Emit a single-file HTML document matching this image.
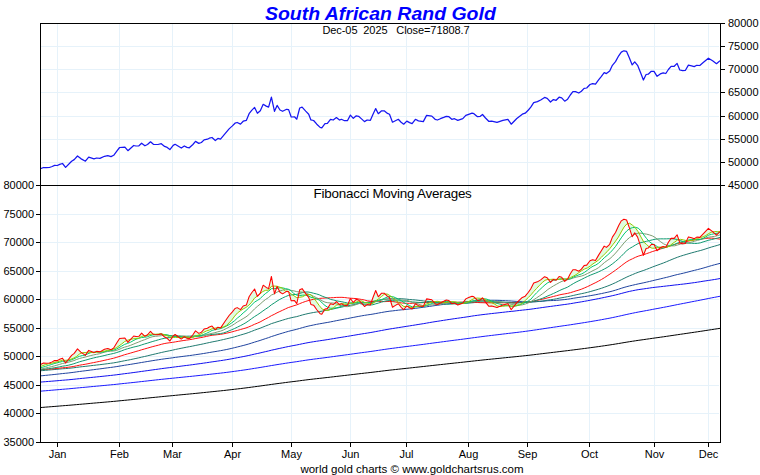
<!DOCTYPE html><html><head><meta charset="utf-8"><style>html,body{margin:0;padding:0;background:#fff;width:760px;height:475px;overflow:hidden}svg{display:block}</style></head><body><svg width="760" height="475" viewBox="0 0 760 475">
<rect width="760" height="475" fill="#fff"/>
<path d="M57.5,24 V441 M119.5,24 V441 M172.5,24 V441 M232.5,24 V441 M291.5,24 V441 M350.5,24 V441 M406.5,24 V441 M468.5,24 V441 M527.5,24 V441 M589.5,24 V441 M654.5,24 V441 M708.5,24 V441 M41,46.5 H719 M41,69.5 H719 M41,92.5 H719 M41,116.5 H719 M41,139.5 H719 M41,162.5 H719 M41,214.5 H719 M41,242.5 H719 M41,271.5 H719 M41,299.5 H719 M41,328.5 H719 M41,356.5 H719 M41,385.5 H719 M41,413.5 H719" stroke="#e6f2fa" stroke-width="1" fill="none"/>
<defs><clipPath id="ct"><rect x="40" y="23" width="680" height="162"/></clipPath><clipPath id="cb"><rect x="40" y="185" width="680" height="257"/></clipPath></defs>
<path d="M40.00,168.90 L43.50,167.50 L46.30,167.70 L49.40,167.50 L52.20,166.50 L54.60,165.40 L57.30,165.50 L59.70,164.40 L62.50,163.50 L65.60,167.40 L71.60,161.20 L74.20,159.60 L77.50,156.00 L80.80,158.60 L85.40,161.20 L88.70,157.20 L94.00,158.90 L96.60,158.00 L99.90,158.40 L104.50,156.30 L107.80,155.70 L111.00,156.60 L113.70,155.30 L117.00,150.80 L119.60,147.50 L124.90,147.10 L127.90,150.70 L133.70,145.50 L136.00,146.00 L138.90,145.80 L141.60,143.20 L144.90,145.80 L147.50,144.50 L150.50,141.80 L153.40,144.30 L158.00,144.50 L161.30,143.70 L164.60,146.40 L167.20,147.40 L169.90,149.60 L173.20,145.40 L175.10,144.30 L178.40,146.30 L181.30,148.00 L184.30,146.00 L187.00,147.40 L189.30,147.80 L192.90,144.50 L195.50,141.40 L198.80,143.40 L201.40,142.50 L204.10,139.90 L207.40,139.20 L209.30,138.20 L212.00,137.50 L215.30,140.50 L217.90,138.40 L220.50,139.10 L225.10,133.60 L229.10,128.90 L232.40,125.90 L235.00,123.20 L237.20,122.50 L240.50,124.10 L243.20,121.20 L246.40,120.30 L249.10,113.70 L251.70,110.40 L254.60,107.40 L257.40,113.30 L260.30,110.70 L263.20,104.30 L266.20,106.10 L268.60,107.10 L271.40,97.20 L274.50,111.30 L277.10,105.40 L280.00,110.00 L282.60,111.30 L286.60,109.30 L288.60,109.60 L291.20,117.00 L294.50,116.80 L296.80,119.20 L299.70,108.00 L302.10,107.10 L305.70,111.10 L308.70,114.20 L310.90,119.90 L313.60,120.50 L316.80,124.20 L320.10,127.40 L321.80,127.80 L325.00,123.60 L327.40,123.30 L330.50,119.30 L333.20,120.00 L336.40,117.60 L339.50,120.00 L341.40,119.30 L344.50,120.70 L347.40,120.70 L350.40,115.10 L353.30,118.30 L356.30,115.80 L358.60,116.30 L361.80,119.10 L364.50,121.60 L367.10,120.00 L370.40,120.30 L372.80,114.70 L375.70,108.60 L378.30,113.70 L381.60,110.80 L384.20,110.80 L387.50,113.40 L389.50,114.30 L392.50,122.20 L395.40,120.70 L398.30,119.30 L401.10,122.20 L403.70,124.20 L406.80,121.10 L409.60,122.60 L412.10,123.60 L415.40,119.30 L418.40,120.90 L421.70,121.30 L423.30,121.60 L426.60,115.40 L431.80,116.10 L435.10,119.30 L437.40,120.00 L440.40,118.70 L443.70,117.40 L446.30,116.30 L448.90,116.70 L451.80,119.30 L454.50,118.70 L457.80,120.40 L462.80,118.70 L465.80,115.40 L468.70,114.30 L472.00,113.20 L473.90,113.70 L477.50,116.70 L480.30,116.30 L482.50,114.50 L485.50,118.00 L488.70,121.30 L491.70,121.10 L497.00,122.40 L502.90,120.40 L507.90,119.30 L511.20,124.20 L516.80,118.50 L522.30,114.20 L525.20,113.20 L528.40,110.00 L530.80,107.20 L533.70,102.60 L537.40,101.60 L540.70,100.00 L544.60,97.40 L547.20,98.30 L550.50,102.00 L553.40,99.60 L556.10,100.30 L559.10,97.20 L561.70,97.90 L564.70,101.20 L567.60,99.20 L570.30,95.00 L572.90,91.70 L575.50,91.70 L578.80,93.00 L581.40,91.30 L584.10,88.40 L586.70,88.00 L590.00,84.50 L592.60,83.60 L595.50,84.20 L598.60,79.90 L601.20,76.60 L604.20,72.60 L606.40,73.60 L609.70,71.10 L612.40,65.30 L615.50,61.60 L618.70,55.80 L621.30,52.10 L623.90,50.80 L626.60,51.40 L629.20,57.40 L632.20,64.90 L634.70,61.80 L637.60,65.30 L640.80,73.20 L643.40,80.00 L646.10,74.50 L648.20,74.20 L651.30,71.30 L654.00,71.30 L657.10,76.30 L660.30,73.90 L663.20,72.90 L665.80,73.50 L668.40,69.50 L671.10,66.30 L674.20,66.30 L677.10,63.40 L679.80,70.00 L682.60,70.70 L685.30,70.50 L688.40,65.10 L691.60,65.80 L694.20,66.60 L696.80,65.30 L699.80,65.50 L703.20,62.60 L708.40,58.20 L712.60,60.80 L716.50,63.70 L720.00,60.80" stroke="#1616f2" stroke-width="1.25" fill="none" stroke-linejoin="round" clip-path="url(#ct)"/>
<g clip-path="url(#cb)">
<path d="M40.00,364.82 L43.50,363.09 L46.30,363.34 L49.40,363.09 L52.20,361.86 L54.60,360.50 L57.30,360.62 L59.70,359.27 L62.50,358.16 L65.60,362.97 L71.60,355.33 L74.20,353.35 L77.50,348.92 L80.80,352.12 L85.40,355.33 L88.70,350.40 L94.00,352.49 L96.60,351.38 L99.90,351.87 L104.50,349.29 L107.80,348.55 L111.00,349.66 L113.70,348.05 L117.00,342.51 L119.60,338.44 L124.90,337.95 L127.90,342.38 L133.70,335.98 L136.00,336.59 L138.90,336.35 L141.60,333.14 L144.90,336.35 L147.50,334.74 L150.50,331.42 L153.40,334.50 L158.00,334.74 L161.30,333.76 L164.60,337.09 L167.20,338.32 L169.90,341.03 L173.20,335.85 L175.10,334.50 L178.40,336.96 L181.30,339.06 L184.30,336.59 L187.00,338.32 L189.30,338.81 L192.90,334.74 L195.50,330.92 L198.80,333.39 L201.40,332.28 L204.10,329.07 L207.40,328.21 L209.30,326.98 L212.00,326.12 L215.30,329.81 L217.90,327.23 L220.50,328.09 L225.10,321.31 L229.10,315.52 L232.40,311.82 L235.00,308.49 L237.20,307.63 L240.50,309.60 L243.20,306.03 L246.40,304.92 L249.10,296.78 L251.70,292.72 L254.60,289.02 L257.40,296.29 L260.30,293.09 L263.20,285.20 L266.20,287.42 L268.60,288.65 L271.40,276.45 L274.50,293.83 L277.10,286.55 L280.00,292.22 L282.60,293.83 L286.60,291.36 L288.60,291.73 L291.20,300.85 L294.50,300.60 L296.80,303.56 L299.70,289.76 L302.10,288.65 L305.70,293.58 L308.70,297.40 L310.90,304.42 L313.60,305.16 L316.80,309.72 L320.10,313.67 L321.80,314.16 L325.00,308.99 L327.40,308.62 L330.50,303.69 L333.20,304.55 L336.40,301.59 L339.50,304.55 L341.40,303.69 L344.50,305.41 L347.40,305.41 L350.40,298.51 L353.30,302.45 L356.30,299.37 L358.60,299.99 L361.80,303.44 L364.50,306.52 L367.10,304.55 L370.40,304.92 L372.80,298.02 L375.70,290.50 L378.30,296.78 L381.60,293.21 L384.20,293.21 L387.50,296.41 L389.50,297.52 L392.50,307.26 L395.40,305.41 L398.30,303.69 L401.10,307.26 L403.70,309.72 L406.80,305.90 L409.60,307.75 L412.10,308.99 L415.40,303.69 L418.40,305.66 L421.70,306.15 L423.30,306.52 L426.60,298.88 L431.80,299.74 L435.10,303.69 L437.40,304.55 L440.40,302.95 L443.70,301.34 L446.30,299.99 L448.90,300.48 L451.80,303.69 L454.50,302.95 L457.80,305.04 L462.80,302.95 L465.80,298.88 L468.70,297.52 L472.00,296.17 L473.90,296.78 L477.50,300.48 L480.30,299.99 L482.50,297.77 L485.50,302.08 L488.70,306.15 L491.70,305.90 L497.00,307.51 L502.90,305.04 L507.90,303.69 L511.20,309.72 L516.80,302.70 L522.30,297.40 L525.20,296.17 L528.40,292.22 L530.80,288.77 L533.70,283.10 L537.40,281.87 L540.70,279.90 L544.60,276.69 L547.20,277.80 L550.50,282.36 L553.40,279.41 L556.10,280.27 L559.10,276.45 L561.70,277.31 L564.70,281.38 L567.60,278.91 L570.30,273.74 L572.90,269.67 L575.50,269.67 L578.80,271.27 L581.40,269.18 L584.10,265.60 L586.70,265.11 L590.00,260.80 L592.60,259.69 L595.50,260.43 L598.60,255.13 L601.20,251.06 L604.20,246.13 L606.40,247.36 L609.70,244.28 L612.40,237.13 L615.50,232.57 L618.70,225.42 L621.30,220.86 L623.90,219.26 L626.60,220.00 L629.20,227.40 L632.20,236.64 L634.70,232.82 L637.60,237.13 L640.80,246.87 L643.40,255.25 L646.10,248.47 L648.20,248.10 L651.30,244.53 L654.00,244.53 L657.10,250.69 L660.30,247.73 L663.20,246.50 L665.80,247.24 L668.40,242.31 L671.10,238.37 L674.20,238.37 L677.10,234.79 L679.80,242.93 L682.60,243.79 L685.30,243.54 L688.40,236.89 L691.60,237.75 L694.20,238.74 L696.80,237.13 L699.80,237.38 L703.20,233.81 L708.40,228.38 L712.60,231.59 L716.50,235.16 L720.00,231.59 L720.00,231.73 L717.18,231.61 L714.36,231.51 L711.54,232.25 L708.71,233.53 L705.89,235.50 L703.07,236.87 L700.25,237.49 L697.43,238.45 L694.61,239.76 L691.78,240.69 L688.96,240.43 L686.14,240.54 L683.32,239.86 L680.50,239.34 L677.68,239.94 L674.85,241.95 L672.03,243.95 L669.21,246.26 L666.39,247.38 L663.57,247.06 L660.75,247.07 L657.93,247.24 L655.10,248.10 L652.28,248.25 L649.46,247.12 L646.64,244.55 L643.82,242.10 L641.00,237.05 L638.17,231.72 L635.35,227.80 L632.53,225.24 L629.71,223.22 L626.89,223.90 L624.07,227.05 L621.24,231.90 L618.42,237.05 L615.60,241.08 L612.78,244.72 L609.96,248.41 L607.14,251.66 L604.32,254.28 L601.49,257.18 L598.67,259.91 L595.85,262.01 L593.03,263.79 L590.21,266.07 L587.39,267.92 L584.56,269.01 L581.74,270.60 L578.92,272.63 L576.10,274.65 L573.28,276.20 L570.46,277.56 L567.63,278.85 L564.81,278.97 L561.99,279.15 L559.17,279.35 L556.35,279.44 L553.53,279.18 L550.71,279.42 L547.88,279.42 L545.06,280.28 L542.24,282.60 L539.42,285.38 L536.60,288.45 L533.78,291.49 L530.95,294.86 L528.13,297.70 L525.31,300.42 L522.49,303.16 L519.67,304.61 L516.85,305.49 L514.02,305.98 L511.20,306.00 L508.38,305.55 L505.56,305.97 L502.74,306.29 L499.92,306.48 L497.10,305.72 L494.27,303.92 L491.45,302.59 L488.63,301.47 L485.81,299.74 L482.99,298.50 L480.17,298.30 L477.34,298.05 L474.52,298.46 L471.70,299.76 L468.88,301.48 L466.06,302.62 L463.24,303.59 L460.41,303.27 L457.59,302.48 L454.77,301.79 L451.95,301.73 L449.13,301.86 L446.31,302.43 L443.49,302.48 L440.66,302.06 L437.84,301.29 L435.02,301.53 L432.20,302.02 L429.38,303.06 L426.56,303.98 L423.73,305.86 L420.91,306.31 L418.09,306.29 L415.27,307.07 L412.45,307.76 L409.63,306.82 L406.80,306.34 L403.98,306.58 L401.16,304.45 L398.34,302.19 L395.52,300.09 L392.70,297.70 L389.88,295.57 L387.05,293.95 L384.23,294.29 L381.41,296.61 L378.59,298.85 L375.77,300.85 L372.95,303.38 L370.12,303.90 L367.30,302.85 L364.48,302.40 L361.66,300.82 L358.84,301.17 L356.02,302.20 L353.20,303.06 L350.37,303.43 L347.55,304.06 L344.73,303.91 L341.91,303.58 L339.09,304.38 L336.27,305.35 L333.44,307.73 L330.62,309.41 L327.80,310.53 L324.98,309.99 L322.16,309.06 L319.34,305.66 L316.51,301.69 L313.69,297.64 L310.87,294.64 L308.05,294.48 L305.23,295.29 L302.41,296.82 L299.59,297.34 L296.76,297.69 L293.94,295.75 L291.12,294.00 L288.30,291.24 L285.48,291.33 L282.66,288.23 L279.83,287.20 L277.01,286.23 L274.19,286.07 L271.37,286.32 L268.55,290.19 L265.73,290.31 L262.90,291.47 L260.08,293.80 L257.26,296.15 L254.44,298.18 L251.62,302.24 L248.80,305.23 L245.98,307.47 L243.15,308.94 L240.33,310.84 L237.51,312.88 L234.69,316.08 L231.87,319.89 L229.05,322.88 L226.22,325.65 L223.40,326.96 L220.58,327.59 L217.76,327.69 L214.94,328.14 L212.12,328.76 L209.29,330.07 L206.47,330.95 L203.65,332.33 L200.83,334.12 L198.01,335.24 L195.19,336.07 L192.37,337.57 L189.54,337.87 L186.72,337.11 L183.90,336.84 L181.08,337.64 L178.26,337.50 L175.44,337.46 L172.61,337.26 L169.79,336.83 L166.97,335.57 L164.15,334.71 L161.33,333.77 L158.51,334.00 L155.68,334.25 L152.86,333.96 L150.04,334.45 L147.22,335.38 L144.40,335.72 L141.58,336.49 L138.76,338.21 L135.93,338.53 L133.11,338.86 L130.29,339.41 L127.47,340.24 L124.65,341.54 L121.83,343.85 L119.00,345.91 L116.18,347.88 L113.36,349.23 L110.54,349.94 L107.72,350.33 L104.90,351.08 L102.07,351.49 L99.25,351.66 L96.43,352.33 L93.61,352.68 L90.79,352.38 L87.97,352.14 L85.15,352.56 L82.32,352.74 L79.50,354.03 L76.68,356.39 L73.86,358.04 L71.04,359.17 L68.22,360.08 L65.39,360.31 L62.57,360.23 L59.75,361.21 L56.93,362.02 L54.11,362.58 L51.29,363.39 L48.46,363.90 L45.64,364.59 L42.82,365.60 L40.00,366.74 Z" fill="#e0fce0" stroke="none"/>
<path d="M40.00,407.58 L42.82,407.36 L45.64,407.14 L48.46,406.92 L51.29,406.70 L54.11,406.47 L56.93,406.24 L59.75,406.01 L62.57,405.78 L65.39,405.56 L68.22,405.34 L71.04,405.10 L73.86,404.86 L76.68,404.61 L79.50,404.36 L82.32,404.11 L85.15,403.88 L87.97,403.63 L90.79,403.39 L93.61,403.14 L96.43,402.90 L99.25,402.65 L102.07,402.41 L104.90,402.16 L107.72,401.91 L110.54,401.66 L113.36,401.41 L116.18,401.15 L119.00,400.87 L121.83,400.60 L124.65,400.32 L127.47,400.06 L130.29,399.78 L133.11,399.51 L135.93,399.23 L138.76,398.95 L141.58,398.66 L144.40,398.38 L147.22,398.10 L150.04,397.81 L152.86,397.53 L155.68,397.25 L158.51,396.97 L161.33,396.69 L164.15,396.41 L166.97,396.14 L169.79,395.88 L172.61,395.61 L175.44,395.33 L178.26,395.06 L181.08,394.79 L183.90,394.52 L186.72,394.26 L189.54,393.99 L192.37,393.72 L195.19,393.44 L198.01,393.16 L200.83,392.88 L203.65,392.59 L206.47,392.30 L209.29,392.01 L212.12,391.71 L214.94,391.43 L217.76,391.14 L220.58,390.85 L223.40,390.55 L226.22,390.24 L229.05,389.92 L231.87,389.59 L234.69,389.25 L237.51,388.91 L240.33,388.58 L243.15,388.23 L245.98,387.89 L248.80,387.52 L251.62,387.15 L254.44,386.76 L257.26,386.39 L260.08,386.02 L262.90,385.62 L265.73,385.23 L268.55,384.85 L271.37,384.43 L274.19,384.06 L277.01,383.67 L279.83,383.30 L282.66,382.93 L285.48,382.56 L288.30,382.18 L291.12,381.84 L293.94,381.49 L296.76,381.15 L299.59,380.78 L302.41,380.40 L305.23,380.04 L308.05,379.68 L310.87,379.35 L313.69,379.02 L316.51,378.70 L319.34,378.39 L322.16,378.08 L324.98,377.76 L327.80,377.44 L330.62,377.11 L333.44,376.79 L336.27,376.45 L339.09,376.12 L341.91,375.80 L344.73,375.47 L347.55,375.15 L350.37,374.81 L353.20,374.48 L356.02,374.15 L358.84,373.81 L361.66,373.49 L364.48,373.17 L367.30,372.85 L370.12,372.53 L372.95,372.20 L375.77,371.84 L378.59,371.50 L381.41,371.16 L384.23,370.81 L387.05,370.47 L389.88,370.14 L392.70,369.83 L395.52,369.52 L398.34,369.21 L401.16,368.90 L403.98,368.60 L406.80,368.30 L409.63,368.00 L412.45,367.70 L415.27,367.39 L418.09,367.08 L420.91,366.78 L423.73,366.47 L426.56,366.15 L429.38,365.83 L432.20,365.52 L435.02,365.21 L437.84,364.90 L440.66,364.60 L443.49,364.29 L446.31,363.97 L449.13,363.66 L451.95,363.36 L454.77,363.06 L457.59,362.76 L460.41,362.46 L463.24,362.15 L466.06,361.84 L468.88,361.53 L471.70,361.21 L474.52,360.90 L477.34,360.59 L480.17,360.29 L482.99,359.98 L485.81,359.68 L488.63,359.40 L491.45,359.11 L494.27,358.83 L497.10,358.55 L499.92,358.27 L502.74,357.98 L505.56,357.69 L508.38,357.41 L511.20,357.14 L514.02,356.86 L516.85,356.57 L519.67,356.28 L522.49,355.98 L525.31,355.67 L528.13,355.36 L530.95,355.04 L533.78,354.71 L536.60,354.37 L539.42,354.03 L542.24,353.68 L545.06,353.34 L547.88,352.99 L550.71,352.66 L553.53,352.32 L556.35,351.98 L559.17,351.64 L561.99,351.29 L564.81,350.96 L567.63,350.63 L570.46,350.27 L573.28,349.91 L576.10,349.56 L578.92,349.20 L581.74,348.84 L584.56,348.47 L587.39,348.10 L590.21,347.72 L593.03,347.34 L595.85,346.96 L598.67,346.57 L601.49,346.16 L604.32,345.75 L607.14,345.34 L609.96,344.92 L612.78,344.48 L615.60,344.03 L618.42,343.56 L621.24,343.09 L624.07,342.60 L626.89,342.13 L629.71,341.67 L632.53,341.24 L635.35,340.80 L638.17,340.37 L641.00,339.97 L643.82,339.58 L646.64,339.18 L649.46,338.78 L652.28,338.37 L655.10,337.96 L657.93,337.57 L660.75,337.17 L663.57,336.77 L666.39,336.37 L669.21,335.95 L672.03,335.53 L674.85,335.11 L677.68,334.69 L680.50,334.28 L683.32,333.87 L686.14,333.46 L688.96,333.04 L691.78,332.62 L694.61,332.21 L697.43,331.79 L700.25,331.37 L703.07,330.94 L705.89,330.51 L708.71,330.07 L711.54,329.63 L714.36,329.21 L717.18,328.78 L720.00,328.35" stroke="#000000" stroke-width="1.0" fill="none" stroke-linejoin="round"/>
<path d="M40.00,391.21 L42.82,390.97 L45.64,390.74 L48.46,390.51 L51.29,390.27 L54.11,390.03 L56.93,389.79 L59.75,389.55 L62.57,389.30 L65.39,389.07 L68.22,388.83 L71.04,388.58 L73.86,388.31 L76.68,388.04 L79.50,387.76 L82.32,387.50 L85.15,387.25 L87.97,386.99 L90.79,386.72 L93.61,386.46 L96.43,386.20 L99.25,385.94 L102.07,385.67 L104.90,385.41 L107.72,385.14 L110.54,384.87 L113.36,384.60 L116.18,384.32 L119.00,384.01 L121.83,383.70 L124.65,383.40 L127.47,383.10 L130.29,382.81 L133.11,382.50 L135.93,382.19 L138.76,381.88 L141.58,381.56 L144.40,381.25 L147.22,380.94 L150.04,380.61 L152.86,380.30 L155.68,379.99 L158.51,379.68 L161.33,379.37 L164.15,379.08 L166.97,378.79 L169.79,378.51 L172.61,378.22 L175.44,377.92 L178.26,377.63 L181.08,377.35 L183.90,377.07 L186.72,376.78 L189.54,376.51 L192.37,376.22 L195.19,375.91 L198.01,375.61 L200.83,375.31 L203.65,375.00 L206.47,374.69 L209.29,374.37 L212.12,374.04 L214.94,373.74 L217.76,373.42 L220.58,373.11 L223.40,372.78 L226.22,372.43 L229.05,372.07 L231.87,371.69 L234.69,371.30 L237.51,370.91 L240.33,370.53 L243.15,370.13 L245.98,369.73 L248.80,369.29 L251.62,368.84 L254.44,368.37 L257.26,367.94 L260.08,367.49 L262.90,367.01 L265.73,366.54 L268.55,366.07 L271.37,365.56 L274.19,365.11 L277.01,364.64 L279.83,364.19 L282.66,363.76 L285.48,363.31 L288.30,362.87 L291.12,362.46 L293.94,362.06 L296.76,361.66 L299.59,361.21 L302.41,360.76 L305.23,360.32 L308.05,359.90 L310.87,359.52 L313.69,359.13 L316.51,358.77 L319.34,358.42 L322.16,358.08 L324.98,357.71 L327.80,357.34 L330.62,356.96 L333.44,356.57 L336.27,356.18 L339.09,355.80 L341.91,355.41 L344.73,355.04 L347.55,354.66 L350.37,354.25 L353.20,353.86 L356.02,353.46 L358.84,353.07 L361.66,352.68 L364.48,352.32 L367.30,351.94 L370.12,351.56 L372.95,351.16 L375.77,350.72 L378.59,350.31 L381.41,349.89 L384.23,349.47 L387.05,349.06 L389.88,348.66 L392.70,348.30 L395.52,347.93 L398.34,347.55 L401.16,347.19 L403.98,346.84 L406.80,346.48 L409.63,346.13 L412.45,345.77 L415.27,345.40 L418.09,345.04 L420.91,344.68 L423.73,344.32 L426.56,343.93 L429.38,343.54 L432.20,343.16 L435.02,342.79 L437.84,342.43 L440.66,342.06 L443.49,341.68 L446.31,341.30 L449.13,340.93 L451.95,340.56 L454.77,340.20 L457.59,339.84 L460.41,339.48 L463.24,339.12 L466.06,338.74 L468.88,338.36 L471.70,337.97 L474.52,337.59 L477.34,337.22 L480.17,336.85 L482.99,336.47 L485.81,336.12 L488.63,335.78 L491.45,335.44 L494.27,335.10 L497.10,334.77 L499.92,334.43 L502.74,334.09 L505.56,333.75 L508.38,333.41 L511.20,333.10 L514.02,332.77 L516.85,332.43 L519.67,332.08 L522.49,331.72 L525.31,331.36 L528.13,330.98 L530.95,330.59 L533.78,330.17 L536.60,329.75 L539.42,329.33 L542.24,328.91 L545.06,328.47 L547.88,328.05 L550.71,327.65 L553.53,327.23 L556.35,326.82 L559.17,326.40 L561.99,325.99 L564.81,325.59 L567.63,325.19 L570.46,324.77 L573.28,324.33 L576.10,323.89 L578.92,323.46 L581.74,323.03 L584.56,322.57 L587.39,322.12 L590.21,321.65 L593.03,321.17 L595.85,320.70 L598.67,320.21 L601.49,319.70 L604.32,319.17 L607.14,318.65 L609.96,318.11 L612.78,317.54 L615.60,316.95 L618.42,316.33 L621.24,315.69 L624.07,315.05 L626.89,314.41 L629.71,313.80 L632.53,313.23 L635.35,312.64 L638.17,312.08 L641.00,311.55 L643.82,311.05 L646.64,310.53 L649.46,310.00 L652.28,309.46 L655.10,308.92 L657.93,308.41 L660.75,307.87 L663.57,307.34 L666.39,306.80 L669.21,306.25 L672.03,305.68 L674.85,305.11 L677.68,304.53 L680.50,303.99 L683.32,303.44 L686.14,302.90 L688.96,302.33 L691.78,301.78 L694.61,301.24 L697.43,300.69 L700.25,300.15 L703.07,299.59 L705.89,299.03 L708.71,298.45 L711.54,297.89 L714.36,297.35 L717.18,296.81 L720.00,296.27" stroke="#1a1aff" stroke-width="1.0" fill="none" stroke-linejoin="round"/>
<path d="M40.00,382.11 L42.82,381.89 L45.64,381.67 L48.46,381.45 L51.29,381.22 L54.11,380.99 L56.93,380.75 L59.75,380.51 L62.57,380.26 L65.39,380.04 L68.22,379.80 L71.04,379.53 L73.86,379.25 L76.68,378.95 L79.50,378.65 L82.32,378.37 L85.15,378.11 L87.97,377.81 L90.79,377.52 L93.61,377.24 L96.43,376.95 L99.25,376.66 L102.07,376.37 L104.90,376.07 L107.72,375.76 L110.54,375.46 L113.36,375.15 L116.18,374.82 L119.00,374.45 L121.83,374.07 L124.65,373.70 L127.47,373.35 L130.29,372.99 L133.11,372.60 L135.93,372.22 L138.76,371.84 L141.58,371.43 L144.40,371.05 L147.22,370.66 L150.04,370.25 L152.86,369.86 L155.68,369.47 L158.51,369.08 L161.33,368.68 L164.15,368.31 L166.97,367.95 L169.79,367.61 L172.61,367.24 L175.44,366.86 L178.26,366.50 L181.08,366.15 L183.90,365.78 L186.72,365.43 L189.54,365.08 L192.37,364.71 L195.19,364.31 L198.01,363.92 L200.83,363.54 L203.65,363.13 L206.47,362.72 L209.29,362.30 L212.12,361.87 L214.94,361.47 L217.76,361.06 L220.58,360.65 L223.40,360.22 L226.22,359.75 L229.05,359.27 L231.87,358.76 L234.69,358.22 L237.51,357.68 L240.33,357.16 L243.15,356.61 L245.98,356.06 L248.80,355.45 L251.62,354.82 L254.44,354.16 L257.26,353.56 L260.08,352.93 L262.90,352.26 L265.73,351.60 L268.55,350.96 L271.37,350.23 L274.19,349.61 L277.01,348.96 L279.83,348.35 L282.66,347.76 L285.48,347.15 L288.30,346.55 L291.12,346.01 L293.94,345.47 L296.76,344.96 L299.59,344.36 L302.41,343.76 L305.23,343.19 L308.05,342.65 L310.87,342.16 L313.69,341.69 L316.51,341.25 L319.34,340.84 L322.16,340.43 L324.98,340.00 L327.80,339.56 L330.62,339.09 L333.44,338.63 L336.27,338.15 L339.09,337.69 L341.91,337.24 L344.73,336.79 L347.55,336.34 L350.37,335.85 L353.20,335.38 L356.02,334.90 L358.84,334.42 L361.66,333.96 L364.48,333.52 L367.30,333.07 L370.12,332.62 L372.95,332.12 L375.77,331.57 L378.59,331.06 L381.41,330.53 L384.23,329.99 L387.05,329.48 L389.88,328.98 L392.70,328.54 L395.52,328.09 L398.34,327.63 L401.16,327.19 L403.98,326.76 L406.80,326.31 L409.63,325.87 L412.45,325.43 L415.27,324.97 L418.09,324.51 L420.91,324.06 L423.73,323.61 L426.56,323.11 L429.38,322.62 L432.20,322.14 L435.02,321.68 L437.84,321.24 L440.66,320.79 L443.49,320.35 L446.31,319.90 L449.13,319.47 L451.95,319.05 L454.77,318.64 L457.59,318.24 L460.41,317.84 L463.24,317.44 L466.06,317.02 L468.88,316.60 L471.70,316.14 L474.52,315.70 L477.34,315.32 L480.17,314.95 L482.99,314.59 L485.81,314.25 L488.63,313.92 L491.45,313.58 L494.27,313.27 L497.10,312.97 L499.92,312.65 L502.74,312.33 L505.56,312.00 L508.38,311.68 L511.20,311.40 L514.02,311.11 L516.85,310.78 L519.67,310.45 L522.49,310.12 L525.31,309.82 L528.13,309.51 L530.95,309.16 L533.78,308.75 L536.60,308.35 L539.42,307.97 L542.24,307.56 L545.06,307.15 L547.88,306.77 L550.71,306.40 L553.53,306.01 L556.35,305.65 L559.17,305.25 L561.99,304.86 L564.81,304.49 L567.63,304.11 L570.46,303.67 L573.28,303.19 L576.10,302.70 L578.92,302.24 L581.74,301.79 L584.56,301.29 L587.39,300.77 L590.21,300.24 L593.03,299.70 L595.85,299.15 L598.67,298.59 L601.49,298.03 L604.32,297.43 L607.14,296.84 L609.96,296.24 L612.78,295.60 L615.60,294.94 L618.42,294.25 L621.24,293.49 L624.07,292.74 L626.89,292.00 L629.71,291.34 L632.53,290.76 L635.35,290.19 L638.17,289.68 L641.00,289.26 L643.82,288.88 L646.64,288.46 L649.46,288.05 L652.28,287.63 L655.10,287.27 L657.93,286.97 L660.75,286.68 L663.57,286.34 L666.39,286.01 L669.21,285.70 L672.03,285.36 L674.85,285.01 L677.68,284.73 L680.50,284.39 L683.32,284.09 L686.14,283.74 L688.96,283.35 L691.78,282.97 L694.61,282.60 L697.43,282.16 L700.25,281.72 L703.07,281.24 L705.89,280.83 L708.71,280.41 L711.54,279.97 L714.36,279.53 L717.18,279.05 L720.00,278.54" stroke="#1010f0" stroke-width="1.0" fill="none" stroke-linejoin="round"/>
<path d="M40.00,375.93 L42.82,375.65 L45.64,375.36 L48.46,375.09 L51.29,374.80 L54.11,374.50 L56.93,374.20 L59.75,373.88 L62.57,373.56 L65.39,373.29 L68.22,372.99 L71.04,372.65 L73.86,372.29 L76.68,371.88 L79.50,371.49 L82.32,371.13 L85.15,370.79 L87.97,370.42 L90.79,370.04 L93.61,369.68 L96.43,369.31 L99.25,368.95 L102.07,368.58 L104.90,368.20 L107.72,367.82 L110.54,367.46 L113.36,367.08 L116.18,366.66 L119.00,366.20 L121.83,365.72 L124.65,365.25 L127.47,364.82 L130.29,364.38 L133.11,363.91 L135.93,363.44 L138.76,362.97 L141.58,362.48 L144.40,362.02 L147.22,361.56 L150.04,361.08 L152.86,360.62 L155.68,360.18 L158.51,359.74 L161.33,359.31 L164.15,358.91 L166.97,358.53 L169.79,358.19 L172.61,357.80 L175.44,357.39 L178.26,357.01 L181.08,356.65 L183.90,356.28 L186.72,355.92 L189.54,355.57 L192.37,355.19 L195.19,354.76 L198.01,354.35 L200.83,353.94 L203.65,353.49 L206.47,353.03 L209.29,352.55 L212.12,352.06 L214.94,351.61 L217.76,351.13 L220.58,350.66 L223.40,350.14 L226.22,349.58 L229.05,348.97 L231.87,348.32 L234.69,347.63 L237.51,346.93 L240.33,346.24 L243.15,345.52 L245.98,344.78 L248.80,343.96 L251.62,343.08 L254.44,342.16 L257.26,341.32 L260.08,340.44 L262.90,339.49 L265.73,338.55 L268.55,337.63 L271.37,336.57 L274.19,335.69 L277.01,334.76 L279.83,333.89 L282.66,333.05 L285.48,332.21 L288.30,331.39 L291.12,330.67 L293.94,329.97 L296.76,329.29 L299.59,328.48 L302.41,327.65 L305.23,326.89 L308.05,326.17 L310.87,325.55 L313.69,324.96 L316.51,324.36 L319.34,323.83 L322.16,323.36 L324.98,322.85 L327.80,322.38 L330.62,321.85 L333.44,321.30 L336.27,320.70 L339.09,320.17 L341.91,319.64 L344.73,319.11 L347.55,318.59 L350.37,317.99 L353.20,317.45 L356.02,316.89 L358.84,316.35 L361.66,315.83 L364.48,315.36 L367.30,314.92 L370.12,314.53 L372.95,314.08 L375.77,313.55 L378.59,313.04 L381.41,312.52 L384.23,312.03 L387.05,311.57 L389.88,311.15 L392.70,310.86 L395.52,310.52 L398.34,310.16 L401.16,309.89 L403.98,309.61 L406.80,309.29 L409.63,308.99 L412.45,308.70 L415.27,308.34 L418.09,307.97 L420.91,307.58 L423.73,307.22 L426.56,306.82 L429.38,306.40 L432.20,305.97 L435.02,305.59 L437.84,305.21 L440.66,304.81 L443.49,304.43 L446.31,304.08 L449.13,303.72 L451.95,303.39 L454.77,303.09 L457.59,302.83 L460.41,302.57 L463.24,302.30 L466.06,301.96 L468.88,301.62 L471.70,301.27 L474.52,300.97 L477.34,300.75 L480.17,300.58 L482.99,300.42 L485.81,300.35 L488.63,300.33 L491.45,300.29 L494.27,300.30 L497.10,300.32 L499.92,300.42 L502.74,300.56 L505.56,300.73 L508.38,300.82 L511.20,301.01 L514.02,301.23 L516.85,301.41 L519.67,301.54 L522.49,301.77 L525.31,301.81 L528.13,301.88 L530.95,301.84 L533.78,301.72 L536.60,301.61 L539.42,301.48 L542.24,301.24 L545.06,300.97 L547.88,300.69 L550.71,300.60 L553.53,300.49 L556.35,300.35 L559.17,300.12 L561.99,299.82 L564.81,299.55 L567.63,299.21 L570.46,298.77 L573.28,298.28 L576.10,297.84 L578.92,297.42 L581.74,297.03 L584.56,296.59 L587.39,296.17 L590.21,295.68 L593.03,295.19 L595.85,294.68 L598.67,294.11 L601.49,293.57 L604.32,292.94 L607.14,292.35 L609.96,291.71 L612.78,290.96 L615.60,290.13 L618.42,289.25 L621.24,288.30 L624.07,287.42 L626.89,286.64 L629.71,285.88 L632.53,285.24 L635.35,284.57 L638.17,283.93 L641.00,283.35 L643.82,282.76 L646.64,282.12 L649.46,281.48 L652.28,280.77 L655.10,280.07 L657.93,279.44 L660.75,278.76 L663.57,278.07 L666.39,277.42 L669.21,276.69 L672.03,275.93 L674.85,275.17 L677.68,274.47 L680.50,273.84 L683.32,273.20 L686.14,272.51 L688.96,271.75 L691.78,271.02 L694.61,270.31 L697.43,269.61 L700.25,268.89 L703.07,268.11 L705.89,267.30 L708.71,266.44 L711.54,265.62 L714.36,264.84 L717.18,264.12 L720.00,263.38" stroke="#20449f" stroke-width="1.0" fill="none" stroke-linejoin="round"/>
<path d="M40.00,370.82 L42.82,370.56 L45.64,370.31 L48.46,370.07 L51.29,369.82 L54.11,369.56 L56.93,369.30 L59.75,369.04 L62.57,368.76 L65.39,368.58 L68.22,368.36 L71.04,368.07 L73.86,367.74 L76.68,367.36 L79.50,366.99 L82.32,366.67 L85.15,366.39 L87.97,366.05 L90.79,365.71 L93.61,365.39 L96.43,365.06 L99.25,364.74 L102.07,364.40 L104.90,364.04 L107.72,363.66 L110.54,363.29 L113.36,362.90 L116.18,362.43 L119.00,361.88 L121.83,361.31 L124.65,360.73 L127.47,360.22 L130.29,359.67 L133.11,359.06 L135.93,358.45 L138.76,357.84 L141.58,357.16 L144.40,356.54 L147.22,355.89 L150.04,355.18 L152.86,354.51 L155.68,353.85 L158.51,353.19 L161.33,352.51 L164.15,351.88 L166.97,351.29 L169.79,350.74 L172.61,350.13 L175.44,349.48 L178.26,348.87 L181.08,348.30 L183.90,347.72 L186.72,347.17 L189.54,346.66 L192.37,346.12 L195.19,345.51 L198.01,344.96 L200.83,344.40 L203.65,343.79 L206.47,343.17 L209.29,342.56 L212.12,341.93 L214.94,341.39 L217.76,340.83 L220.58,340.20 L223.40,339.55 L226.22,338.89 L229.05,338.20 L231.87,337.51 L234.69,336.75 L237.51,335.92 L240.33,335.09 L243.15,334.27 L245.98,333.43 L248.80,332.44 L251.62,331.37 L254.44,330.23 L257.26,329.24 L260.08,328.22 L262.90,327.08 L265.73,325.95 L268.55,324.87 L271.37,323.64 L274.19,322.78 L277.01,321.85 L279.83,321.01 L282.66,320.14 L285.48,319.27 L288.30,318.45 L291.12,317.80 L293.94,317.15 L296.76,316.61 L299.59,315.78 L302.41,314.95 L305.23,314.24 L308.05,313.56 L310.87,313.01 L313.69,312.48 L316.51,312.03 L319.34,311.60 L322.16,311.15 L324.98,310.57 L327.80,310.05 L330.62,309.48 L333.44,308.89 L336.27,308.21 L339.09,307.62 L341.91,307.00 L344.73,306.40 L347.55,305.84 L350.37,305.25 L353.20,304.69 L356.02,304.10 L358.84,303.56 L361.66,303.10 L364.48,302.73 L367.30,302.34 L370.12,301.89 L372.95,301.35 L375.77,300.67 L378.59,300.18 L381.41,299.70 L384.23,299.29 L387.05,298.99 L389.88,298.81 L392.70,298.80 L395.52,298.72 L398.34,298.68 L401.16,298.72 L403.98,298.93 L406.80,299.17 L409.63,299.51 L412.45,299.73 L415.27,299.93 L418.09,300.28 L420.91,300.62 L423.73,300.93 L426.56,301.34 L429.38,301.47 L432.20,301.71 L435.02,301.93 L437.84,302.12 L440.66,302.31 L443.49,302.49 L446.31,302.48 L449.13,302.48 L451.95,302.49 L454.77,302.72 L457.59,303.01 L460.41,303.21 L463.24,303.31 L466.06,303.21 L468.88,303.07 L471.70,302.83 L474.52,302.55 L477.34,302.31 L480.17,302.15 L482.99,301.97 L485.81,301.95 L488.63,301.98 L491.45,302.06 L494.27,302.11 L497.10,302.17 L499.92,302.18 L502.74,302.19 L505.56,302.29 L508.38,302.33 L511.20,302.51 L514.02,302.62 L516.85,302.61 L519.67,302.49 L522.49,302.36 L525.31,302.20 L528.13,302.11 L530.95,302.07 L533.78,301.82 L536.60,301.62 L539.42,301.39 L542.24,301.07 L545.06,300.68 L547.88,300.16 L550.71,299.74 L553.53,299.30 L556.35,298.80 L559.17,298.20 L561.99,297.69 L564.81,297.21 L567.63,296.67 L570.46,296.12 L573.28,295.47 L576.10,294.81 L578.92,294.19 L581.74,293.64 L584.56,293.02 L587.39,292.37 L590.21,291.59 L593.03,290.78 L595.85,289.99 L598.67,289.15 L601.49,288.25 L604.32,287.26 L607.14,286.22 L609.96,285.14 L612.78,283.90 L615.60,282.60 L618.42,281.21 L621.24,279.80 L624.07,278.38 L626.89,277.00 L629.71,275.76 L632.53,274.59 L635.35,273.39 L638.17,272.30 L641.00,271.30 L643.82,270.36 L646.64,269.32 L649.46,268.22 L652.28,267.08 L655.10,266.00 L657.93,264.99 L660.75,263.96 L663.57,262.91 L666.39,261.75 L669.21,260.57 L672.03,259.40 L674.85,258.26 L677.68,257.16 L680.50,256.20 L683.32,255.31 L686.14,254.46 L688.96,253.62 L691.78,252.82 L694.61,252.05 L697.43,251.30 L700.25,250.57 L703.07,249.76 L705.89,248.83 L708.71,247.90 L711.54,247.01 L714.36,246.22 L717.18,245.43 L720.00,244.53" stroke="#207a70" stroke-width="1.0" fill="none" stroke-linejoin="round"/>
<path d="M40.00,369.72 L42.82,369.54 L45.64,369.36 L48.46,369.18 L51.29,368.96 L54.11,368.70 L56.93,368.44 L59.75,368.13 L62.57,367.79 L65.39,367.58 L68.22,367.28 L71.04,366.87 L73.86,366.39 L76.68,365.80 L79.50,365.23 L82.32,364.73 L85.15,364.28 L87.97,363.72 L90.79,363.14 L93.61,362.60 L96.43,362.03 L99.25,361.46 L102.07,360.86 L104.90,360.22 L107.72,359.56 L110.54,358.93 L113.36,358.27 L116.18,357.48 L119.00,356.58 L121.83,355.64 L124.65,354.72 L127.47,353.94 L130.29,353.15 L133.11,352.32 L135.93,351.49 L138.76,350.70 L141.58,349.81 L144.40,349.01 L147.22,348.20 L150.04,347.36 L152.86,346.57 L155.68,345.85 L158.51,345.15 L161.33,344.30 L164.15,343.62 L166.97,343.10 L169.79,342.73 L172.61,342.34 L175.44,341.86 L178.26,341.38 L181.08,340.91 L183.90,340.48 L186.72,340.09 L189.54,339.69 L192.37,339.21 L195.19,338.61 L198.01,338.09 L200.83,337.60 L203.65,337.04 L206.47,336.42 L209.29,335.79 L212.12,335.28 L214.94,334.98 L217.76,334.66 L220.58,334.37 L223.40,333.84 L226.22,333.25 L229.05,332.63 L231.87,331.92 L234.69,331.11 L237.51,330.37 L240.33,329.59 L243.15,328.75 L245.98,327.96 L248.80,326.89 L251.62,325.66 L254.44,324.33 L257.26,323.21 L260.08,321.94 L262.90,320.40 L265.73,318.82 L268.55,317.40 L271.37,315.69 L274.19,314.38 L277.01,312.84 L279.83,311.52 L282.66,310.22 L285.48,308.85 L288.30,307.56 L291.12,306.66 L293.94,305.71 L296.76,304.86 L299.59,303.70 L302.41,302.55 L305.23,301.54 L308.05,300.67 L310.87,299.93 L313.69,299.28 L316.51,298.74 L319.34,298.41 L322.16,298.23 L324.98,298.04 L327.80,297.91 L330.62,297.76 L333.44,297.65 L336.27,297.42 L339.09,297.37 L341.91,297.33 L344.73,297.56 L347.55,297.92 L350.37,298.20 L353.20,298.38 L356.02,298.57 L358.84,298.99 L361.66,299.47 L364.48,299.99 L367.30,300.82 L370.12,301.19 L372.95,301.51 L375.77,301.47 L378.59,301.55 L381.41,301.59 L384.23,301.64 L387.05,301.50 L389.88,301.45 L392.70,301.55 L395.52,302.00 L398.34,302.43 L401.16,302.85 L403.98,303.23 L406.80,303.27 L409.63,303.35 L412.45,303.32 L415.27,303.06 L418.09,302.82 L420.91,302.73 L423.73,302.66 L426.56,302.52 L429.38,302.37 L432.20,302.33 L435.02,302.31 L437.84,302.32 L440.66,302.25 L443.49,302.14 L446.31,302.18 L449.13,302.14 L451.95,302.25 L454.77,302.34 L457.59,302.39 L460.41,302.31 L463.24,302.25 L466.06,302.06 L468.88,302.06 L471.70,302.23 L474.52,302.25 L477.34,302.46 L480.17,302.66 L482.99,302.73 L485.81,302.84 L488.63,302.81 L491.45,302.82 L494.27,302.91 L497.10,302.91 L499.92,302.82 L502.74,302.80 L505.56,302.70 L508.38,302.59 L511.20,302.76 L514.02,302.78 L516.85,302.68 L519.67,302.52 L522.49,302.47 L525.31,302.37 L528.13,302.14 L530.95,301.70 L533.78,301.07 L536.60,300.47 L539.42,299.85 L542.24,299.23 L545.06,298.53 L547.88,297.79 L550.71,297.18 L553.53,296.43 L556.35,295.72 L559.17,294.96 L561.99,294.34 L564.81,293.87 L567.63,293.35 L570.46,292.65 L573.28,291.75 L576.10,290.86 L578.92,290.06 L581.74,289.07 L584.56,287.88 L587.39,286.65 L590.21,285.30 L593.03,283.89 L595.85,282.53 L598.67,281.05 L601.49,279.47 L604.32,277.76 L607.14,275.90 L609.96,274.06 L612.78,272.12 L615.60,270.13 L618.42,268.03 L621.24,265.83 L624.07,263.67 L626.89,261.68 L629.71,260.09 L632.53,258.74 L635.35,257.36 L638.17,256.19 L641.00,255.33 L643.82,254.60 L646.64,253.61 L649.46,252.65 L652.28,251.60 L655.10,250.73 L657.93,249.91 L660.75,248.92 L663.57,247.97 L666.39,247.17 L669.21,246.33 L672.03,245.40 L674.85,244.41 L677.68,243.46 L680.50,242.80 L683.32,242.20 L686.14,241.64 L688.96,240.97 L691.78,240.33 L694.61,239.84 L697.43,239.45 L700.25,239.17 L703.07,238.80 L705.89,238.43 L708.71,238.19 L711.54,238.15 L714.36,238.36 L717.18,238.76 L720.00,239.12" stroke="#ff1010" stroke-width="1.0" fill="none" stroke-linejoin="round"/>
<path d="M40.00,369.73 L42.82,369.40 L45.64,369.07 L48.46,368.72 L51.29,368.33 L54.11,367.85 L56.93,367.37 L59.75,366.81 L62.57,366.20 L65.39,365.80 L68.22,365.26 L71.04,364.55 L73.86,363.73 L76.68,362.74 L79.50,361.80 L82.32,360.99 L85.15,360.28 L87.97,359.44 L90.79,358.63 L93.61,357.95 L96.43,357.31 L99.25,356.69 L102.07,356.08 L104.90,355.41 L107.72,354.71 L110.54,354.11 L113.36,353.51 L116.18,352.71 L119.00,351.77 L121.83,350.81 L124.65,349.64 L127.47,348.79 L130.29,348.01 L133.11,347.20 L135.93,346.56 L138.76,345.87 L141.58,344.92 L144.40,344.00 L147.22,343.21 L150.04,342.29 L152.86,341.41 L155.68,340.61 L158.51,339.79 L161.33,338.99 L164.15,338.39 L166.97,337.90 L169.79,337.49 L172.61,336.94 L175.44,336.51 L178.26,336.39 L181.08,336.42 L183.90,336.37 L186.72,336.20 L189.54,336.14 L192.37,336.08 L195.19,335.83 L198.01,335.66 L200.83,335.63 L203.65,335.34 L206.47,335.03 L209.29,334.79 L212.12,334.43 L214.94,334.18 L217.76,333.83 L220.58,333.56 L223.40,332.95 L226.22,332.06 L229.05,330.86 L231.87,329.70 L234.69,328.47 L237.51,327.08 L240.33,325.69 L243.15,324.22 L245.98,322.64 L248.80,320.70 L251.62,318.67 L254.44,316.67 L257.26,314.91 L260.08,313.04 L262.90,310.97 L265.73,309.00 L268.55,307.17 L271.37,304.80 L274.19,303.03 L277.01,301.10 L279.83,299.38 L282.66,297.95 L285.48,296.63 L288.30,295.49 L291.12,294.93 L293.94,294.54 L296.76,294.33 L299.59,293.42 L302.41,292.61 L305.23,292.03 L308.05,291.98 L310.87,292.52 L313.69,293.29 L316.51,293.93 L319.34,294.85 L322.16,296.17 L324.98,297.21 L327.80,298.13 L330.62,299.43 L333.44,300.01 L336.27,300.72 L339.09,301.30 L341.91,301.79 L344.73,302.42 L347.55,303.06 L350.37,302.96 L353.20,303.04 L356.02,302.86 L358.84,303.33 L361.66,304.01 L364.48,304.66 L367.30,305.04 L370.12,305.06 L372.95,304.70 L375.77,303.81 L378.59,303.04 L381.41,302.07 L384.23,301.32 L387.05,300.75 L389.88,300.51 L392.70,300.65 L395.52,300.82 L398.34,300.80 L401.16,300.96 L403.98,301.15 L406.80,301.19 L409.63,301.63 L412.45,301.92 L415.27,302.12 L418.09,302.37 L420.91,302.50 L423.73,302.45 L426.56,302.19 L429.38,301.92 L432.20,302.05 L435.02,302.66 L437.84,303.03 L440.66,303.48 L443.49,303.87 L446.31,304.06 L449.13,304.16 L451.95,303.99 L454.77,303.89 L457.59,303.94 L460.41,303.78 L463.24,303.45 L466.06,303.11 L468.88,302.62 L471.70,302.04 L474.52,301.73 L477.34,301.49 L480.17,301.20 L482.99,300.86 L485.81,301.03 L488.63,301.35 L491.45,301.62 L494.27,301.77 L497.10,301.92 L499.92,302.08 L502.74,302.26 L505.56,302.46 L508.38,302.65 L511.20,302.94 L514.02,303.08 L516.85,302.97 L519.67,302.78 L522.49,302.54 L525.31,302.41 L528.13,302.18 L530.95,301.81 L533.78,301.13 L536.60,300.26 L539.42,299.34 L542.24,298.39 L545.06,297.18 L547.88,295.88 L550.71,294.74 L553.53,293.45 L556.35,292.14 L559.17,290.72 L561.99,289.41 L564.81,288.31 L567.63,287.09 L570.46,285.36 L573.28,283.63 L576.10,282.07 L578.92,280.70 L581.74,279.34 L584.56,277.88 L587.39,276.53 L590.21,275.21 L593.03,274.10 L595.85,273.04 L598.67,271.82 L601.49,270.48 L604.32,269.02 L607.14,267.50 L609.96,265.66 L612.78,263.62 L615.60,261.35 L618.42,258.95 L621.24,256.25 L624.07,253.30 L626.89,250.53 L629.71,248.41 L632.53,246.82 L635.35,245.09 L638.17,243.56 L641.00,242.54 L643.82,242.01 L646.64,241.25 L649.46,240.58 L652.28,239.86 L655.10,239.23 L657.93,238.99 L660.75,238.84 L663.57,238.86 L666.39,238.84 L669.21,238.72 L672.03,238.81 L674.85,239.05 L677.68,239.55 L680.50,240.61 L683.32,241.77 L686.14,242.77 L688.96,243.15 L691.78,243.23 L694.61,243.46 L697.43,243.37 L700.25,242.87 L703.07,241.91 L705.89,241.08 L708.71,240.22 L711.54,239.56 L714.36,238.92 L717.18,238.18 L720.00,237.42" stroke="#109a70" stroke-width="1.0" fill="none" stroke-linejoin="round"/>
<path d="M40.00,369.16 L42.82,368.57 L45.64,367.98 L48.46,367.38 L51.29,366.72 L54.11,365.95 L56.93,365.19 L59.75,364.34 L62.57,363.44 L65.39,362.94 L68.22,362.27 L71.04,361.46 L73.86,360.60 L76.68,359.46 L79.50,358.49 L82.32,357.72 L85.15,357.10 L87.97,356.27 L90.79,355.54 L93.61,354.90 L96.43,354.30 L99.25,353.80 L102.07,352.88 L104.90,352.08 L107.72,351.50 L110.54,351.18 L113.36,351.05 L116.18,350.51 L119.00,349.45 L121.83,348.15 L124.65,347.11 L127.47,346.38 L130.29,345.41 L133.11,344.27 L135.93,343.10 L138.76,342.00 L141.58,340.77 L144.40,339.79 L147.22,338.67 L150.04,337.41 L152.86,336.65 L155.68,336.28 L158.51,336.00 L161.33,335.68 L164.15,335.29 L166.97,335.17 L169.79,335.50 L172.61,335.51 L175.44,335.39 L178.26,335.67 L181.08,335.91 L183.90,336.06 L186.72,336.54 L189.54,336.89 L192.37,336.95 L195.19,336.70 L198.01,336.63 L200.83,336.31 L203.65,335.65 L206.47,334.69 L209.29,333.94 L212.12,333.28 L214.94,332.71 L217.76,331.82 L220.58,331.13 L223.40,330.03 L226.22,328.58 L229.05,327.06 L231.87,325.60 L234.69,323.77 L237.51,321.86 L240.33,320.32 L243.15,318.60 L245.98,316.91 L248.80,314.72 L251.62,311.90 L254.44,308.97 L257.26,306.50 L260.08,304.16 L262.90,301.57 L265.73,299.37 L268.55,297.54 L271.37,295.06 L274.19,293.85 L277.01,292.10 L279.83,291.01 L282.66,290.14 L285.48,289.71 L288.30,289.62 L291.12,290.49 L293.94,290.86 L296.76,291.64 L299.59,291.97 L302.41,292.12 L305.23,292.46 L308.05,293.99 L310.87,294.94 L313.69,296.36 L316.51,297.70 L319.34,299.16 L322.16,300.81 L324.98,302.15 L327.80,302.72 L330.62,302.95 L333.44,303.02 L336.27,303.89 L339.09,305.05 L341.91,305.90 L344.73,306.58 L347.55,306.64 L350.37,306.12 L353.20,305.58 L356.02,304.58 L358.84,303.55 L361.66,303.11 L364.48,302.99 L367.30,303.06 L370.12,303.10 L372.95,302.79 L375.77,301.75 L378.59,301.18 L381.41,300.25 L384.23,299.34 L387.05,299.14 L389.88,298.87 L392.70,299.44 L395.52,299.84 L398.34,299.87 L401.16,299.93 L403.98,300.30 L406.80,300.38 L409.63,301.16 L412.45,302.53 L415.27,303.10 L418.09,304.02 L420.91,305.01 L423.73,305.74 L426.56,305.76 L429.38,305.16 L432.20,304.77 L435.02,304.76 L437.84,304.52 L440.66,304.02 L443.49,303.68 L446.31,303.08 L449.13,302.49 L451.95,302.47 L454.77,302.29 L457.59,302.20 L460.41,302.08 L463.24,302.34 L466.06,302.30 L468.88,302.08 L471.70,301.52 L474.52,300.99 L477.34,300.80 L480.17,300.69 L482.99,300.57 L485.81,300.71 L488.63,300.89 L491.45,301.11 L494.27,301.24 L497.10,301.51 L499.92,301.82 L502.74,302.31 L505.56,302.83 L508.38,303.47 L511.20,304.42 L514.02,304.87 L516.85,305.07 L519.67,305.18 L522.49,304.79 L525.31,304.02 L528.13,302.99 L530.95,301.59 L533.78,299.71 L536.60,297.85 L539.42,295.97 L542.24,294.00 L545.06,291.87 L547.88,289.48 L550.71,287.64 L553.53,285.85 L556.35,284.31 L559.17,282.71 L561.99,281.30 L564.81,280.43 L567.63,279.69 L570.46,278.96 L573.28,278.00 L576.10,277.17 L578.92,276.60 L581.74,275.97 L584.56,274.95 L587.39,273.57 L590.21,272.13 L593.03,270.58 L595.85,269.30 L598.67,267.56 L601.49,265.19 L604.32,262.68 L607.14,260.62 L609.96,258.61 L612.78,256.05 L615.60,253.06 L618.42,249.78 L621.24,246.35 L624.07,242.89 L626.89,239.83 L629.71,237.45 L632.53,235.63 L635.35,234.00 L638.17,233.10 L641.00,233.20 L643.82,233.78 L646.64,234.15 L649.46,234.92 L652.28,235.86 L655.10,237.45 L657.93,239.68 L660.75,241.85 L663.57,243.83 L666.39,245.15 L669.21,245.54 L672.03,245.89 L674.85,245.79 L677.68,244.94 L680.50,244.09 L683.32,243.73 L686.14,243.36 L688.96,242.78 L691.78,242.09 L694.61,241.21 L697.43,240.42 L700.25,239.67 L703.07,238.73 L705.89,237.96 L708.71,237.21 L711.54,236.68 L714.36,236.43 L717.18,235.76 L720.00,234.83" stroke="#7c9e72" stroke-width="1.0" fill="none" stroke-linejoin="round"/>
<path d="M40.00,368.06 L42.82,367.17 L45.64,366.30 L48.46,365.45 L51.29,364.59 L54.11,363.64 L56.93,362.90 L59.75,362.20 L62.57,361.38 L65.39,361.28 L68.22,360.83 L71.04,359.94 L73.86,358.86 L76.68,357.51 L79.50,356.29 L82.32,355.53 L85.15,355.14 L87.97,353.75 L90.79,352.70 L93.61,352.23 L96.43,351.96 L99.25,352.18 L102.07,352.16 L104.90,351.66 L107.72,350.84 L110.54,350.59 L113.36,350.22 L116.18,349.16 L119.00,347.65 L121.83,345.96 L124.65,344.37 L127.47,343.44 L130.29,342.34 L133.11,340.73 L135.93,339.27 L138.76,338.33 L141.58,337.55 L144.40,337.26 L147.22,336.87 L150.04,335.65 L152.86,334.92 L155.68,334.67 L158.51,334.42 L161.33,334.10 L164.15,334.53 L166.97,334.83 L169.79,335.58 L172.61,336.18 L175.44,336.28 L178.26,336.56 L181.08,337.10 L183.90,337.49 L186.72,337.68 L189.54,337.72 L192.37,337.03 L195.19,336.35 L198.01,336.11 L200.83,335.57 L203.65,334.41 L206.47,333.35 L209.29,331.95 L212.12,330.42 L214.94,329.67 L217.76,329.17 L220.58,328.57 L223.40,327.48 L226.22,326.24 L229.05,324.63 L231.87,322.81 L234.69,320.64 L237.51,317.94 L240.33,315.71 L243.15,312.97 L245.98,310.63 L248.80,307.88 L251.62,305.04 L254.44,302.14 L257.26,300.52 L260.08,298.71 L262.90,295.77 L265.73,293.39 L268.55,291.34 L271.37,288.70 L274.19,288.61 L277.01,288.30 L279.83,287.80 L282.66,287.86 L285.48,288.61 L288.30,289.19 L291.12,290.68 L293.94,293.69 L296.76,295.12 L299.59,295.56 L302.41,295.20 L305.23,295.10 L308.05,295.66 L310.87,297.24 L313.69,297.83 L316.51,298.92 L319.34,300.07 L322.16,302.98 L324.98,305.48 L327.80,307.36 L330.62,308.25 L333.44,308.25 L336.27,307.80 L339.09,307.16 L341.91,306.06 L344.73,305.04 L347.55,304.54 L350.37,303.37 L353.20,303.19 L356.02,302.61 L358.84,302.42 L361.66,302.31 L364.48,302.63 L367.30,302.53 L370.12,302.50 L372.95,302.39 L375.77,300.93 L378.59,300.53 L381.41,299.68 L384.23,298.42 L387.05,297.11 L389.88,296.38 L392.70,296.66 L395.52,297.62 L398.34,299.26 L401.16,300.61 L403.98,302.61 L406.80,304.19 L409.63,305.66 L412.45,306.88 L415.27,306.47 L418.09,306.48 L420.91,306.77 L423.73,306.55 L426.56,305.25 L429.38,304.43 L432.20,303.48 L435.02,302.88 L437.84,302.93 L440.66,302.60 L443.49,302.03 L446.31,301.34 L449.13,301.56 L451.95,302.09 L454.77,302.46 L457.59,302.62 L460.41,302.58 L463.24,302.52 L466.06,302.18 L468.88,301.86 L471.70,301.31 L474.52,300.53 L477.34,300.18 L480.17,299.57 L482.99,298.88 L485.81,298.90 L488.63,299.81 L491.45,300.87 L494.27,302.17 L497.10,303.43 L499.92,304.17 L502.74,304.81 L505.56,305.54 L508.38,305.80 L511.20,306.26 L514.02,306.29 L516.85,305.79 L519.67,304.85 L522.49,303.73 L525.31,302.59 L528.13,301.12 L530.95,299.11 L533.78,295.78 L536.60,292.77 L539.42,290.02 L542.24,287.36 L545.06,284.81 L547.88,282.65 L550.71,281.35 L553.53,280.22 L556.35,279.83 L559.17,279.12 L561.99,278.75 L564.81,279.08 L567.63,279.33 L570.46,278.67 L573.28,277.11 L576.10,275.92 L578.92,274.83 L581.74,273.86 L584.56,272.33 L587.39,270.20 L590.21,267.93 L593.03,266.22 L595.85,264.99 L598.67,263.12 L601.49,260.55 L604.32,257.73 L607.14,255.38 L609.96,252.80 L612.78,249.78 L615.60,246.35 L618.42,242.13 L621.24,237.87 L624.07,233.96 L626.89,230.79 L629.71,228.58 L632.53,227.64 L635.35,227.30 L638.17,228.11 L641.00,230.80 L643.82,234.95 L646.64,238.58 L649.46,241.81 L652.28,243.76 L655.10,245.08 L657.93,247.10 L660.75,248.18 L663.57,248.07 L666.39,247.06 L669.21,246.15 L672.03,245.12 L674.85,244.25 L677.68,242.97 L680.50,242.12 L683.32,241.65 L686.14,241.04 L688.96,239.90 L691.78,239.49 L694.61,239.50 L697.43,239.46 L700.25,239.50 L703.07,238.35 L705.89,236.76 L708.71,235.12 L711.54,234.34 L714.36,233.76 L717.18,233.26 L720.00,232.56" stroke="#00c870" stroke-width="1.0" fill="none" stroke-linejoin="round"/>
<path d="M40.00,366.74 L42.82,365.60 L45.64,364.59 L48.46,363.90 L51.29,363.39 L54.11,362.58 L56.93,362.02 L59.75,361.21 L62.57,360.23 L65.39,360.31 L68.22,360.08 L71.04,359.17 L73.86,358.04 L76.68,356.39 L79.50,354.03 L82.32,352.74 L85.15,352.56 L87.97,352.14 L90.79,352.38 L93.61,352.68 L96.43,352.33 L99.25,351.66 L102.07,351.49 L104.90,351.08 L107.72,350.33 L110.54,349.94 L113.36,349.23 L116.18,347.88 L119.00,345.91 L121.83,343.85 L124.65,341.54 L127.47,340.24 L130.29,339.41 L133.11,338.86 L135.93,338.53 L138.76,338.21 L141.58,336.49 L144.40,335.72 L147.22,335.38 L150.04,334.45 L152.86,333.96 L155.68,334.25 L158.51,334.00 L161.33,333.77 L164.15,334.71 L166.97,335.57 L169.79,336.83 L172.61,337.26 L175.44,337.46 L178.26,337.50 L181.08,337.64 L183.90,336.84 L186.72,337.11 L189.54,337.87 L192.37,337.57 L195.19,336.07 L198.01,335.24 L200.83,334.12 L203.65,332.33 L206.47,330.95 L209.29,330.07 L212.12,328.76 L214.94,328.14 L217.76,327.69 L220.58,327.59 L223.40,326.96 L226.22,325.65 L229.05,322.88 L231.87,319.89 L234.69,316.08 L237.51,312.88 L240.33,310.84 L243.15,308.94 L245.98,307.47 L248.80,305.23 L251.62,302.24 L254.44,298.18 L257.26,296.15 L260.08,293.80 L262.90,291.47 L265.73,290.31 L268.55,290.19 L271.37,286.32 L274.19,286.07 L277.01,286.23 L279.83,287.20 L282.66,288.23 L285.48,291.33 L288.30,291.24 L291.12,294.00 L293.94,295.75 L296.76,297.69 L299.59,297.34 L302.41,296.82 L305.23,295.29 L308.05,294.48 L310.87,294.64 L313.69,297.64 L316.51,301.69 L319.34,305.66 L322.16,309.06 L324.98,309.99 L327.80,310.53 L330.62,309.41 L333.44,307.73 L336.27,305.35 L339.09,304.38 L341.91,303.58 L344.73,303.91 L347.55,304.06 L350.37,303.43 L353.20,303.06 L356.02,302.20 L358.84,301.17 L361.66,300.82 L364.48,302.40 L367.30,302.85 L370.12,303.90 L372.95,303.38 L375.77,300.85 L378.59,298.85 L381.41,296.61 L384.23,294.29 L387.05,293.95 L389.88,295.57 L392.70,297.70 L395.52,300.09 L398.34,302.19 L401.16,304.45 L403.98,306.58 L406.80,306.34 L409.63,306.82 L412.45,307.76 L415.27,307.07 L418.09,306.29 L420.91,306.31 L423.73,305.86 L426.56,303.98 L429.38,303.06 L432.20,302.02 L435.02,301.53 L437.84,301.29 L440.66,302.06 L443.49,302.48 L446.31,302.43 L449.13,301.86 L451.95,301.73 L454.77,301.79 L457.59,302.48 L460.41,303.27 L463.24,303.59 L466.06,302.62 L468.88,301.48 L471.70,299.76 L474.52,298.46 L477.34,298.05 L480.17,298.30 L482.99,298.50 L485.81,299.74 L488.63,301.47 L491.45,302.59 L494.27,303.92 L497.10,305.72 L499.92,306.48 L502.74,306.29 L505.56,305.97 L508.38,305.55 L511.20,306.00 L514.02,305.98 L516.85,305.49 L519.67,304.61 L522.49,303.16 L525.31,300.42 L528.13,297.70 L530.95,294.86 L533.78,291.49 L536.60,288.45 L539.42,285.38 L542.24,282.60 L545.06,280.28 L547.88,279.42 L550.71,279.42 L553.53,279.18 L556.35,279.44 L559.17,279.35 L561.99,279.15 L564.81,278.97 L567.63,278.85 L570.46,277.56 L573.28,276.20 L576.10,274.65 L578.92,272.63 L581.74,270.60 L584.56,269.01 L587.39,267.92 L590.21,266.07 L593.03,263.79 L595.85,262.01 L598.67,259.91 L601.49,257.18 L604.32,254.28 L607.14,251.66 L609.96,248.41 L612.78,244.72 L615.60,241.08 L618.42,237.05 L621.24,231.90 L624.07,227.05 L626.89,223.90 L629.71,223.22 L632.53,225.24 L635.35,227.80 L638.17,231.72 L641.00,237.05 L643.82,242.10 L646.64,244.55 L649.46,247.12 L652.28,248.25 L655.10,248.10 L657.93,247.24 L660.75,247.07 L663.57,247.06 L666.39,247.38 L669.21,246.26 L672.03,243.95 L674.85,241.95 L677.68,239.94 L680.50,239.34 L683.32,239.86 L686.14,240.54 L688.96,240.43 L691.78,240.69 L694.61,239.76 L697.43,238.45 L700.25,237.49 L703.07,236.87 L705.89,235.50 L708.71,233.53 L711.54,232.25 L714.36,231.51 L717.18,231.61 L720.00,231.73" stroke="#96c800" stroke-width="1.0" fill="none" stroke-linejoin="round"/>
<path d="M40.00,364.82 L43.50,363.09 L46.30,363.34 L49.40,363.09 L52.20,361.86 L54.60,360.50 L57.30,360.62 L59.70,359.27 L62.50,358.16 L65.60,362.97 L71.60,355.33 L74.20,353.35 L77.50,348.92 L80.80,352.12 L85.40,355.33 L88.70,350.40 L94.00,352.49 L96.60,351.38 L99.90,351.87 L104.50,349.29 L107.80,348.55 L111.00,349.66 L113.70,348.05 L117.00,342.51 L119.60,338.44 L124.90,337.95 L127.90,342.38 L133.70,335.98 L136.00,336.59 L138.90,336.35 L141.60,333.14 L144.90,336.35 L147.50,334.74 L150.50,331.42 L153.40,334.50 L158.00,334.74 L161.30,333.76 L164.60,337.09 L167.20,338.32 L169.90,341.03 L173.20,335.85 L175.10,334.50 L178.40,336.96 L181.30,339.06 L184.30,336.59 L187.00,338.32 L189.30,338.81 L192.90,334.74 L195.50,330.92 L198.80,333.39 L201.40,332.28 L204.10,329.07 L207.40,328.21 L209.30,326.98 L212.00,326.12 L215.30,329.81 L217.90,327.23 L220.50,328.09 L225.10,321.31 L229.10,315.52 L232.40,311.82 L235.00,308.49 L237.20,307.63 L240.50,309.60 L243.20,306.03 L246.40,304.92 L249.10,296.78 L251.70,292.72 L254.60,289.02 L257.40,296.29 L260.30,293.09 L263.20,285.20 L266.20,287.42 L268.60,288.65 L271.40,276.45 L274.50,293.83 L277.10,286.55 L280.00,292.22 L282.60,293.83 L286.60,291.36 L288.60,291.73 L291.20,300.85 L294.50,300.60 L296.80,303.56 L299.70,289.76 L302.10,288.65 L305.70,293.58 L308.70,297.40 L310.90,304.42 L313.60,305.16 L316.80,309.72 L320.10,313.67 L321.80,314.16 L325.00,308.99 L327.40,308.62 L330.50,303.69 L333.20,304.55 L336.40,301.59 L339.50,304.55 L341.40,303.69 L344.50,305.41 L347.40,305.41 L350.40,298.51 L353.30,302.45 L356.30,299.37 L358.60,299.99 L361.80,303.44 L364.50,306.52 L367.10,304.55 L370.40,304.92 L372.80,298.02 L375.70,290.50 L378.30,296.78 L381.60,293.21 L384.20,293.21 L387.50,296.41 L389.50,297.52 L392.50,307.26 L395.40,305.41 L398.30,303.69 L401.10,307.26 L403.70,309.72 L406.80,305.90 L409.60,307.75 L412.10,308.99 L415.40,303.69 L418.40,305.66 L421.70,306.15 L423.30,306.52 L426.60,298.88 L431.80,299.74 L435.10,303.69 L437.40,304.55 L440.40,302.95 L443.70,301.34 L446.30,299.99 L448.90,300.48 L451.80,303.69 L454.50,302.95 L457.80,305.04 L462.80,302.95 L465.80,298.88 L468.70,297.52 L472.00,296.17 L473.90,296.78 L477.50,300.48 L480.30,299.99 L482.50,297.77 L485.50,302.08 L488.70,306.15 L491.70,305.90 L497.00,307.51 L502.90,305.04 L507.90,303.69 L511.20,309.72 L516.80,302.70 L522.30,297.40 L525.20,296.17 L528.40,292.22 L530.80,288.77 L533.70,283.10 L537.40,281.87 L540.70,279.90 L544.60,276.69 L547.20,277.80 L550.50,282.36 L553.40,279.41 L556.10,280.27 L559.10,276.45 L561.70,277.31 L564.70,281.38 L567.60,278.91 L570.30,273.74 L572.90,269.67 L575.50,269.67 L578.80,271.27 L581.40,269.18 L584.10,265.60 L586.70,265.11 L590.00,260.80 L592.60,259.69 L595.50,260.43 L598.60,255.13 L601.20,251.06 L604.20,246.13 L606.40,247.36 L609.70,244.28 L612.40,237.13 L615.50,232.57 L618.70,225.42 L621.30,220.86 L623.90,219.26 L626.60,220.00 L629.20,227.40 L632.20,236.64 L634.70,232.82 L637.60,237.13 L640.80,246.87 L643.40,255.25 L646.10,248.47 L648.20,248.10 L651.30,244.53 L654.00,244.53 L657.10,250.69 L660.30,247.73 L663.20,246.50 L665.80,247.24 L668.40,242.31 L671.10,238.37 L674.20,238.37 L677.10,234.79 L679.80,242.93 L682.60,243.79 L685.30,243.54 L688.40,236.89 L691.60,237.75 L694.20,238.74 L696.80,237.13 L699.80,237.38 L703.20,233.81 L708.40,228.38 L712.60,231.59 L716.50,235.16 L720.00,231.59" stroke="#ff0000" stroke-width="1.05" fill="none" stroke-linejoin="round"/>
</g>
<path d="M40.5,23 V443 M720.5,23 V443 M40,23.5 H721 M40,185.5 H721 M40,442.5 H721" stroke="#000" stroke-width="1" fill="none"/>
<path d="M721,23.5 H725 M721,46.5 H725 M721,69.5 H725 M721,92.5 H725 M721,116.5 H725 M721,139.5 H725 M721,162.5 H725 M721,185.5 H725 M36,185.5 H40 M36,214.5 H40 M36,242.5 H40 M36,271.5 H40 M36,299.5 H40 M36,328.5 H40 M36,356.5 H40 M36,385.5 H40 M36,413.5 H40 M36,442.5 H40 M57.5,443 V447 M119.5,443 V447 M172.5,443 V447 M232.5,443 V447 M291.5,443 V447 M350.5,443 V447 M406.5,443 V447 M468.5,443 V447 M527.5,443 V447 M589.5,443 V447 M654.5,443 V447 M708.5,443 V447" stroke="#000" stroke-width="1" fill="none"/>
<text x="728" y="26.6" font-size="11" font-family="Liberation Sans, sans-serif" fill="#000">80000</text>
<text x="728" y="49.6" font-size="11" font-family="Liberation Sans, sans-serif" fill="#000">75000</text>
<text x="728" y="72.6" font-size="11" font-family="Liberation Sans, sans-serif" fill="#000">70000</text>
<text x="728" y="95.6" font-size="11" font-family="Liberation Sans, sans-serif" fill="#000">65000</text>
<text x="728" y="119.6" font-size="11" font-family="Liberation Sans, sans-serif" fill="#000">60000</text>
<text x="728" y="142.6" font-size="11" font-family="Liberation Sans, sans-serif" fill="#000">55000</text>
<text x="728" y="165.6" font-size="11" font-family="Liberation Sans, sans-serif" fill="#000">50000</text>
<text x="728" y="188.6" font-size="11" font-family="Liberation Sans, sans-serif" fill="#000">45000</text>
<text x="34" y="188.6" font-size="11" font-family="Liberation Sans, sans-serif" fill="#000" text-anchor="end">80000</text>
<text x="34" y="217.6" font-size="11" font-family="Liberation Sans, sans-serif" fill="#000" text-anchor="end">75000</text>
<text x="34" y="245.6" font-size="11" font-family="Liberation Sans, sans-serif" fill="#000" text-anchor="end">70000</text>
<text x="34" y="274.6" font-size="11" font-family="Liberation Sans, sans-serif" fill="#000" text-anchor="end">65000</text>
<text x="34" y="302.6" font-size="11" font-family="Liberation Sans, sans-serif" fill="#000" text-anchor="end">60000</text>
<text x="34" y="331.6" font-size="11" font-family="Liberation Sans, sans-serif" fill="#000" text-anchor="end">55000</text>
<text x="34" y="359.6" font-size="11" font-family="Liberation Sans, sans-serif" fill="#000" text-anchor="end">50000</text>
<text x="34" y="388.6" font-size="11" font-family="Liberation Sans, sans-serif" fill="#000" text-anchor="end">45000</text>
<text x="34" y="416.6" font-size="11" font-family="Liberation Sans, sans-serif" fill="#000" text-anchor="end">40000</text>
<text x="34" y="445.6" font-size="11" font-family="Liberation Sans, sans-serif" fill="#000" text-anchor="end">35000</text>
<text x="57.5" y="458" font-size="11" font-family="Liberation Sans, sans-serif" fill="#000" text-anchor="middle">Jan</text>
<text x="119.5" y="458" font-size="11" font-family="Liberation Sans, sans-serif" fill="#000" text-anchor="middle">Feb</text>
<text x="172.5" y="458" font-size="11" font-family="Liberation Sans, sans-serif" fill="#000" text-anchor="middle">Mar</text>
<text x="232.5" y="458" font-size="11" font-family="Liberation Sans, sans-serif" fill="#000" text-anchor="middle">Apr</text>
<text x="291.5" y="458" font-size="11" font-family="Liberation Sans, sans-serif" fill="#000" text-anchor="middle">May</text>
<text x="350.5" y="458" font-size="11" font-family="Liberation Sans, sans-serif" fill="#000" text-anchor="middle">Jun</text>
<text x="406.5" y="458" font-size="11" font-family="Liberation Sans, sans-serif" fill="#000" text-anchor="middle">Jul</text>
<text x="468.5" y="458" font-size="11" font-family="Liberation Sans, sans-serif" fill="#000" text-anchor="middle">Aug</text>
<text x="527.5" y="458" font-size="11" font-family="Liberation Sans, sans-serif" fill="#000" text-anchor="middle">Sep</text>
<text x="589.5" y="458" font-size="11" font-family="Liberation Sans, sans-serif" fill="#000" text-anchor="middle">Oct</text>
<text x="654.5" y="458" font-size="11" font-family="Liberation Sans, sans-serif" fill="#000" text-anchor="middle">Nov</text>
<text x="708.5" y="458" font-size="11" font-family="Liberation Sans, sans-serif" fill="#000" text-anchor="middle">Dec</text>
<text x="380.4" y="0" font-size="19.5" font-weight="bold" font-style="italic" font-family="Liberation Sans, sans-serif" fill="#0000ff" text-anchor="middle" transform="translate(0,19.6) scale(1,0.93)">South African Rand Gold</text>
<text x="396" y="33.9" font-size="11" letter-spacing="-0.09" font-family="Liberation Sans, sans-serif" fill="#000" text-anchor="middle" xml:space="preserve">Dec-05  2025   Close=71808.7</text>
<text x="392.6" y="197.9" font-size="13.4" letter-spacing="-0.22" font-family="Liberation Sans, sans-serif" fill="#000" text-anchor="middle">Fibonacci Moving Averages</text>
<text x="412" y="472.8" font-size="11.5" font-family="Liberation Sans, sans-serif" fill="#000" text-anchor="middle">world gold charts © www.goldchartsrus.com</text>
</svg></body></html>
